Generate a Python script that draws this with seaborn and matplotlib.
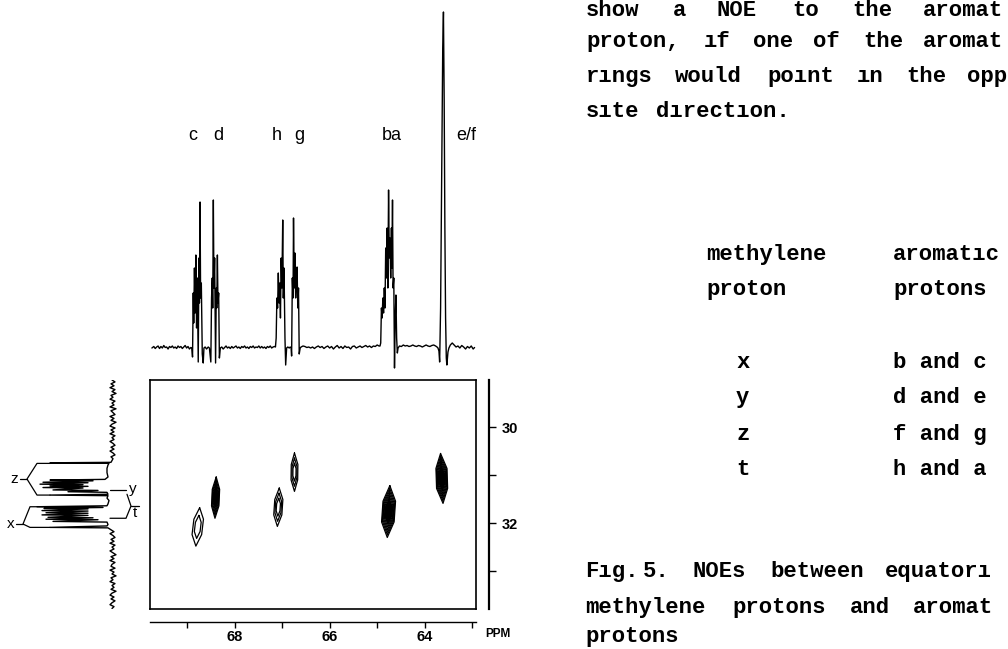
import numpy as np
import pandas as pd
import seaborn as sns
import matplotlib.pyplot as plt

# ---- 1D trace on top (f2, ppm x10) : (ppm, height) vertices
base_a = [(69.74, 0), (69.70, 1.5), (69.67, -0.5), (69.64, 1), (69.61, 2), (69.58, -0.5), (69.55, 1.5),
          (69.52, 0), (69.49, 2.5), (69.46, 0.5), (69.43, 1), (69.40, -1), (69.37, 1.5), (69.34, 0.5),
          (69.31, 2), (69.28, 0), (69.25, 1), (69.22, -0.5), (69.19, 2), (69.16, 0.5), (69.13, 1.5),
          (69.10, -0.5), (69.07, 1), (69.04, 2.5), (69.01, 0), (68.98, 1.5), (68.95, -1), (68.92, 0.5)]
mult_c = [(68.90, 0), (68.885, -9), (68.87, 55), (68.86, 25), (68.845, 80), (68.83, 35), (68.815, 93),
          (68.80, 20), (68.785, 70), (68.765, -14), (68.75, 90), (68.74, 45), (68.727, 146), (68.715, 50),
          (68.70, 65), (68.68, -6), (68.66, -15), (68.645, 0)]
base_cd = [(68.62, 1), (68.59, -1), (68.555, 1)]
mult_d = [(68.53, 0), (68.50, -14), (68.485, 50), (68.47, 70), (68.46, 40), (68.447, 148), (68.435, 60),
          (68.42, 90), (68.40, -15), (68.385, 60), (68.375, 40), (68.362, 93), (68.35, 45), (68.335, 55),
          (68.32, -10), (68.30, 0)]
base_b = [(68.27, 1), (68.24, -1), (68.21, 0.5), (68.18, 2), (68.15, 0), (68.12, 1), (68.09, -0.5),
          (68.06, 1.5), (68.03, 0), (68.00, 1), (67.97, 2), (67.94, 0), (67.91, 1), (67.88, -0.5),
          (67.85, 1.5), (67.82, 0.5), (67.79, 2), (67.76, 0), (67.73, 1), (67.70, -0.5), (67.67, 1.5),
          (67.64, 0.5), (67.61, 2), (67.58, 0), (67.55, 1), (67.52, 0.5), (67.49, 2), (67.46, 0),
          (67.43, 1.5), (67.40, 0), (67.37, 1), (67.34, -0.5), (67.31, 1.5), (67.28, 0.5), (67.25, 2),
          (67.22, 0), (67.19, 1), (67.16, 1.5)]
mult_h = [(67.14, 1), (67.125, 10), (67.11, 50), (67.095, 40), (67.08, 75), (67.065, 45), (67.05, 65),
          (67.035, 30), (67.02, 90), (67.005, 60), (66.987, 128), (66.975, 50), (66.96, 80), (66.94, 10),
          (66.925, -17), (66.905, 0)]
base_hg = [(66.88, 1), (66.85, 0), (66.83, 1)]
mult_g = [(66.81, 0), (66.80, -8), (66.785, 70), (66.77, 50), (66.76, 130), (66.745, 60), (66.73, 95),
          (66.715, 50), (66.70, 70), (66.685, 81), (66.67, 40), (66.655, 60), (66.64, -6), (66.62, 0)]
base_c = [(66.60, 1), (66.56, 2), (66.52, 1.5), (66.48, 0.5), (66.44, 1), (66.40, 0), (66.36, 1),
          (66.32, -0.5), (66.28, 1), (66.24, 2), (66.20, 0.5), (66.16, 1.5), (66.12, -0.5), (66.08, 1),
          (66.04, 2), (66.00, 0), (65.96, 1.5), (65.92, -1), (65.88, 1), (65.84, 2.5), (65.80, 0),
          (65.76, 1.5), (65.72, -0.5), (65.68, 2), (65.64, 0.5), (65.60, 1), (65.56, -1), (65.52, 1.5),
          (65.48, 2), (65.44, 0), (65.40, 1), (65.36, 2), (65.32, 0.5), (65.28, 1.5), (65.24, 2.5),
          (65.20, 1), (65.16, 2), (65.12, 0.5), (65.08, 2), (65.04, 1.5), (65.00, 3), (64.96, 2)]
mult_ba = [(64.94, 2), (64.925, 5), (64.91, 40), (64.895, 30), (64.88, 50), (64.865, 35), (64.85, 60),
           (64.835, 40), (64.82, 100), (64.805, 70), (64.79, 120), (64.775, 60), (64.76, 158),
           (64.745, 90), (64.73, 110), (64.715, 70), (64.70, 120), (64.69, 80), (64.677, 148),
           (64.665, 60), (64.65, 70), (64.635, -20), (64.62, 30), (64.605, 53), (64.59, 10),
           (64.575, -5), (64.56, 0)]
base_d = [(64.53, 2), (64.49, 1.5), (64.45, 3), (64.41, 2), (64.37, 2.5), (64.33, 1.5), (64.29, 2),
          (64.25, 3), (64.21, 2), (64.17, 1.5), (64.13, 2.5), (64.09, 2), (64.05, 1), (64.01, 2),
          (63.97, 3), (63.93, 2), (63.89, 1.5), (63.85, 2.5), (63.81, 3), (63.77, 2), (63.74, 1)]
mult_ef = [(63.72, 0), (63.70, -3), (63.685, -14), (63.665, 40), (63.64, 180), (63.62, 300),
           (63.605, 336), (63.59, 250), (63.575, 120), (63.56, 30), (63.545, -10), (63.533, -17),
           (63.51, -4), (63.49, 0)]
base_e = [(63.46, 3), (63.42, 5), (63.38, 3), (63.34, 1), (63.30, 2), (63.26, 0), (63.22, 2.5),
          (63.18, 1), (63.14, -1), (63.10, 1.5), (63.06, 0), (63.02, 2), (62.98, -1), (62.95, 0.5)]

top_labels = ["c", "d", "h", "g", "ba", "e/f"]
top_label_ppm = [68.87, 68.35, 67.105, 66.64, 64.695, 63.13]

# ---- 1D projection on the left (f1) : (ppm, intensity) vertices
proj_noise_top = [(29.02, 1), (29.06, -2), (29.10, 2), (29.14, -1), (29.18, 3), (29.22, -2), (29.26, 1),
                  (29.30, -3), (29.34, 2), (29.38, 0), (29.42, 3), (29.46, -2), (29.50, 1), (29.54, -1),
                  (29.58, 3), (29.62, -3), (29.66, 2), (29.70, 0), (29.74, -2), (29.78, 3), (29.82, -1),
                  (29.86, 2), (29.90, -3), (29.94, 1), (29.98, 3), (30.02, -2), (30.06, 2), (30.10, -1),
                  (30.14, 3), (30.18, -2), (30.22, 1), (30.26, -1), (30.30, 3), (30.34, 0), (30.38, -2),
                  (30.42, 2), (30.46, -1), (30.50, 3), (30.54, 0), (30.58, -2), (30.62, 2), (30.66, 0),
                  (30.70, 1)]
proj_peaks = [(30.735, 2), (30.745, 63), (30.755, 4), (30.79, 5), (30.86, 6), (30.95, 6), (31.04, 5),
              (31.09, 8), (31.104, 63), (31.12, 20), (31.15, 70), (31.16, 25), (31.19, 73), (31.20, 30),
              (31.225, 63), (31.235, 25), (31.26, 70), (31.27, 30), (31.31, 60), (31.32, 15),
              (31.347, 45), (31.36, 6), (31.40, 5), (31.417, 63), (31.43, 5), (31.48, 6), (31.53, 4),
              (31.60, 5), (31.64, 6), (31.66, 76), (31.675, 10), (31.695, 69), (31.705, 25),
              (31.74, 71), (31.75, 25), (31.785, 67), (31.795, 25), (31.83, 71), (31.84, 25),
              (31.88, 65), (31.89, 20), (31.92, 67), (31.93, 15), (31.965, 60), (31.98, 6),
              (32.03, 5), (32.06, 6), (32.09, 63), (32.10, 5)]
proj_noise_bottom = [(32.14, 2), (32.18, -1), (32.22, 3), (32.26, 0), (32.30, -2), (32.34, 2), (32.38, -1),
                     (32.42, 3), (32.46, -2), (32.50, 1), (32.54, -1), (32.58, 3), (32.62, 0), (32.66, -3),
                     (32.70, 2), (32.74, -1), (32.78, 3), (32.82, -2), (32.86, 1), (32.90, 2), (32.94, -2),
                     (32.98, 3), (33.02, -1), (33.06, 1), (33.10, -3), (33.14, 2), (33.18, 0), (33.22, 3),
                     (33.26, -2), (33.30, 1), (33.34, -1), (33.38, 2), (33.42, -3), (33.46, 1), (33.50, 3),
                     (33.54, -1), (33.58, 2), (33.62, -2), (33.66, 1), (33.70, 3), (33.74, -1), (33.78, 1)]

# brackets on the projection: (intensity, ppm)
bracket_z = [(63, 30.757), (76, 30.757), (86, 31.083), (76, 31.417), (63, 31.417)]
bracket_x = [(63, 31.66), (83, 31.66), (90, 32.02), (83, 32.09), (63, 32.09)]
bracket_y = [(3, 31.31), (-13, 31.31)]
bracket_t = [(3, 31.90), (-13, 31.90), (-18, 31.646), (-14, 31.40)]

# ---- cross peaks of the 2D map
cross_names = ["c", "d", "h", "g", "ba", "e/f"]
cross_f2 = [68.775, 68.40, 67.08, 66.74, 64.76, 63.64]
cross_f1 = [32.08, 31.47, 31.67, 30.94, 31.76, 31.07]
cross_hw = [0.13, 0.10, 0.11, 0.09, 0.17, 0.15]
cross_hh = [0.40, 0.43, 0.40, 0.40, 0.54, 0.52]
cross_tilt = [0.10, 0.03, 0.05, 0.0, 0.05, -0.05]
cross_levels = [2, 6, 3, 3, 8, 8]

f2_ticks = [69, 68, 67, 66, 65, 64, 63]
f2_ticklabels = ["", "68", "", "66", "", "64", ""]
f1_ticks = [30, 31, 32, 33]
f1_ticklabels = ["30", "", "32", ""]

table_rows = [("x", "b and c"), ("y", "d and e"), ("z", "f and g"), ("t", "h and a")]

sns.set_theme(style="ticks", rc={"axes.edgecolor": "black", "xtick.color": "black",
                                 "ytick.color": "black", "text.color": "black"})
plt.rcParams['font.family'] = ['Liberation Sans', 'DejaVu Sans']

W, H = 1008, 649
fig = plt.figure(figsize=(W / 100, H / 100), dpi=100)
fig.patch.set_facecolor("white")

# 2D box
ax = fig.add_axes([150 / W, (H - 609) / H, 326 / W, 229 / H])
ax.set_xlim(69.78, 62.92)
ax.set_ylim(33.79, 29.02)
ax.set_xticks([])
ax.set_yticks([])
for sp in ax.spines.values():
    sp.set_linewidth(1.2)
    sp.set_visible(True)

hex_u = [0, 0.75, 0.8, 0, -0.75, -0.8, 0]
hex_v = [-1, -0.4, 0.4, 1, 0.4, -0.4, -1]
for x0, y0, hw, hh, tl, nl in zip(cross_f2, cross_f1, cross_hw, cross_hh, cross_tilt, cross_levels):
    for k in range(nl):
        s = 1 - 0.8 * k / nl
        xs = [x0 + hw * s * u + tl * hh * s * v for u, v in zip(hex_u, hex_v)]
        ys = [y0 + hh * s * v for v in hex_v]
        ax.plot(xs, ys, color="black", lw=0.9)
    if nl >= 6:
        s = 0.45
        xs = [x0 + hw * s * u + tl * hh * s * v for u, v in zip(hex_u, hex_v)]
        ys = [y0 + hh * s * v for v in hex_v]
        ax.fill(xs, ys, color="black")

sx = ax.secondary_xaxis(-13 / 229)
sx.set_xticks(f2_ticks, labels=f2_ticklabels)
sx.tick_params(bottom=True, labelbottom=True, direction="out", length=4, width=1, pad=2,
               labelsize=10.5)
for lab in sx.get_xticklabels():
    lab.set_fontweight("bold")
sx.spines["bottom"].set_linewidth(1.0)

sy = ax.secondary_yaxis(1 + 13 / 326)
sy.set_yticks(f1_ticks, labels=f1_ticklabels)
sy.tick_params(right=True, labelright=True, direction="out", length=5, width=1, pad=4,
               labelsize=10.5)
for lab in sy.get_yticklabels():
    lab.set_fontweight("bold")
sy.spines["right"].set_linewidth(1.6)

fig.text(485 / W, 1 - 634 / H, "PPM", fontsize=8.5, fontweight="bold", va="center", ha="left")

# top trace
ax_top = fig.add_axes([150 / W, (H - 372) / H, 326 / W, 372 / H])
top_pts = base_a + mult_c + base_cd + mult_d + base_b + mult_h + base_hg + mult_g + base_c + mult_ba + base_d + mult_ef + base_e
top_df = pd.DataFrame(top_pts, columns=["ppm", "height"])
sns.lineplot(data=top_df, x="ppm", y="height", ax=ax_top, sort=False, estimator=None,
             color="black", lw=1.0)
ax_top.set_xlim(69.78, 62.92)
ax_top.set_ylim(-24, 348)
ax_top.axis("off")
for lab, xp in zip(top_labels, top_label_ppm):
    ax_top.text(xp, 208, lab, ha="center", va="baseline", fontsize=13)

# left projection
ax_p = fig.add_axes([0, (H - 609) / H, 150 / W, 229 / H])
proj_df = pd.DataFrame(proj_noise_top + proj_peaks + proj_noise_bottom, columns=["ppm", "intensity"])
sns.lineplot(data=proj_df, x="intensity", y="ppm", ax=ax_p, sort=False, estimator=None,
             color="black", lw=1.0)
ax_p.set_xlim(113, -37)
ax_p.set_ylim(33.79, 29.02)
ax_p.axis("off")
for br in (bracket_z, bracket_x, bracket_y, bracket_t):
    ax_p.plot([p[0] for p in br], [p[1] for p in br], color="black", lw=0.9, clip_on=False)
ax_p.plot([86, 93], [31.083, 31.083], color="black", lw=0.9)
ax_p.plot([90, 97], [32.02, 32.02], color="black", lw=0.9)
ax_p.plot([-18, -26], [31.646, 31.646], color="black", lw=0.9)
ax_p.text(95, 31.083, "z", ha="right", va="center", fontsize=11)
ax_p.text(99, 32.02, "x", ha="right", va="center", fontsize=11)
ax_p.text(-16, 31.30, "y", ha="left", va="center", fontsize=11)
ax_p.text(-20, 31.80, "t", ha="left", va="center", fontsize=11)

# right-hand text block
mono = dict(family=["Liberation Mono", "DejaVu Sans Mono"], fontweight="bold", fontsize=16,
            va="baseline", ha="left")
para = [
    (16, [(586, "show"), (673, "a"), (717, "NOE"), (792, "to"), (852, "the"), (923, "aromat")]),
    (47, [(586, "proton,"), (704, "ıf"), (753, "one"), (813, "of"), (863, "the"), (923, "aromat")]),
    (82, [(586, "rıngs"), (675, "would"), (767, "poınt"), (857, "ın"), (906, "the"), (967, "opp")]),
    (117, [(586, "sıte"), (656, "dırectıon.")]),
    (260, [(706, "methylene"), (893, "aromatıc")]),
    (295, [(706, "proton"), (893, "protons")]),
    (577, [(585, "Fıg."), (643, "5."), (693, "NOEs"), (770, "between"), (885, "equatorı")]),
    (613, [(585, "methylene"), (732, "protons"), (850, "and"), (913, "aromat")]),
    (642, [(585, "protons")]),
]
for yb, words in para:
    for xw, w in words:
        fig.text(xw / W, 1 - yb / H, w, **mono)
for (m, a), yb in zip(table_rows, [368, 403, 440, 475]):
    fig.text(736 / W, 1 - yb / H, m, **mono)
    fig.text(893 / W, 1 - yb / H, a, **mono)

fig.savefig("out.png", dpi=100, facecolor="white")
